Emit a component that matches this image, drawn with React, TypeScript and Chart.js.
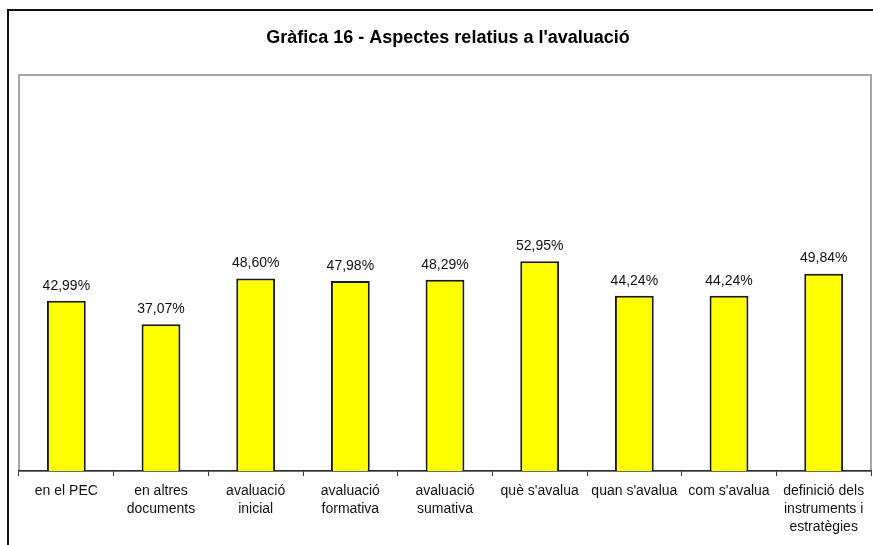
import React, { useEffect, useRef } from "react";
import { Chart, registerables } from "chart.js";

Chart.register(...registerables);

const TITLE = "Gràfica 16 - Aspectes relatius a l'avaluació";

const CATEGORIES: (string | string[])[] = [
  "en el PEC",
  ["en altres", "documents"],
  ["avaluació", "inicial"],
  ["avaluació", "formativa"],
  ["avaluació", "sumativa"],
  "què s'avalua",
  "quan s'avalua",
  "com s'avalua",
  ["definició dels", "instruments i", "estratègies"],
];

const VALUES: number[] = [42.99, 37.07, 48.6, 47.98, 48.29, 52.95, 44.24, 44.24, 49.84];

const Y_MIN = 0;
const Y_MAX = 100;

const FONT = "'Liberation Sans', Arial, sans-serif";

export default function App() {
  const ref = useRef<HTMLCanvasElement | null>(null);

  useEffect(() => {
    const canvas = ref.current;
    if (!canvas) return;

    const framePlugin = {
      id: "frame",
      beforeDraw(chart: any) {
        const { ctx, chartArea } = chart;
        ctx.save();
        ctx.fillStyle = "#ffffff";
        ctx.fillRect(0, 0, chart.width, chart.height);
        ctx.strokeStyle = "#a6a6a6";
        ctx.lineWidth = 2;
        ctx.strokeRect(chartArea.left, chartArea.top, chartArea.right - chartArea.left, chartArea.bottom - chartArea.top);
        ctx.fillStyle = "#000";
        ctx.font = `bold 18px ${FONT}`;
        ctx.textAlign = "center";
        ctx.textBaseline = "middle";
        ctx.fillText(TITLE, 439, 27);
        ctx.restore();
      },
    };

    const labelPlugin = {
      id: "valueLabels",
      afterDatasetsDraw(chart: any) {
        const { ctx } = chart;
        const meta = chart.getDatasetMeta(0);
        ctx.save();
        ctx.fillStyle = "#111";
        ctx.font = `14px ${FONT}`;
        ctx.textAlign = "center";
        ctx.textBaseline = "middle";
        meta.data.forEach((el: any, i: number) => {
          const v = VALUES[i];
          ctx.fillText(v.toFixed(2).replace(".", ",") + "%", el.x, el.y - 15);
        });
        ctx.restore();
      },
    };

    const chart = new Chart(canvas, {
      type: "bar",
      data: {
        labels: CATEGORIES,
        datasets: [
          {
            data: VALUES,
            backgroundColor: "#ffff00",
            borderColor: "#1a1a1a",
            borderWidth: 2,
            categoryPercentage: 1,
            barPercentage: 0.41,
          },
        ],
      },
      options: {
        animation: false,
        responsive: false,
        maintainAspectRatio: false,
        layout: { padding: { left: 10, right: 18, top: 64, bottom: 10 } },
        plugins: {
          legend: { display: false },
          title: { display: false },
          tooltip: { enabled: false },
        },
        scales: {
          x: {
            afterFit(scale: any) {
              scale.height = 70;
            },
            grid: {
              display: true,
              drawOnChartArea: false,
              drawTicks: true,
              tickLength: 5,
              color: "#333",
              lineWidth: 1,
              offset: true,
            },
            border: { display: true, color: "#333", width: 1.5 },
            ticks: {
              color: "#111",
              font: { family: FONT, size: 14, lineHeight: 18 / 14 },
              padding: 6,
              maxRotation: 0,
              minRotation: 0,
              autoSkip: false,
            },
          },
          y: {
            display: false,
            min: Y_MIN,
            max: Y_MAX,
          },
        },
      },
      plugins: [framePlugin, labelPlugin],
    });

    return () => chart.destroy();
  }, []);

  return (
    <div style={{ position: "fixed", left: 0, top: 0, width: 873, height: 545, overflow: "hidden", background: "#fff" }}>
      <div
        style={{
          position: "absolute",
          left: 7,
          top: 9,
          width: 880,
          height: 540,
          border: "2px solid #111",
          background: "#fff",
        }}
      >
        <canvas ref={ref} width={880} height={540} style={{ display: "block", width: 880, height: 540 }} />
      </div>
    </div>
  );
}
